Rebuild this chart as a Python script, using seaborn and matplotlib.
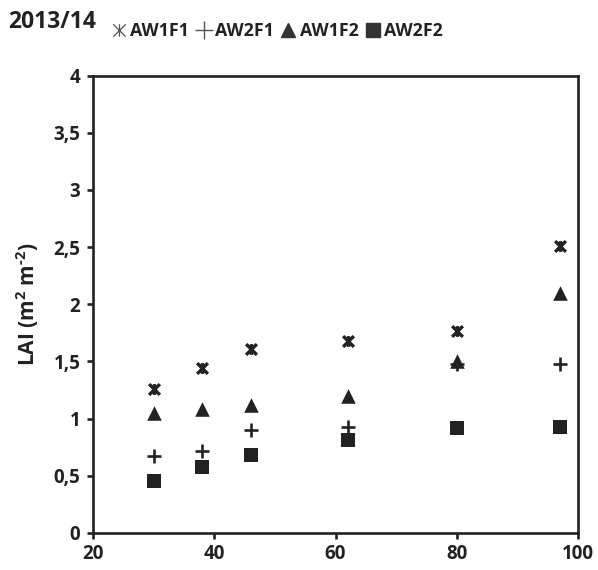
import matplotlib
matplotlib.use("Agg")
import matplotlib.pyplot as plt
from matplotlib.path import Path
from matplotlib.lines import Line2D
import seaborn as sns
import pandas as pd

days = [30, 38, 46, 62, 80, 97]
aw1f1 = [1.26, 1.44, 1.61, 1.68, 1.77, 2.51]
aw2f1 = [0.67, 0.72, 0.90, 0.93, 1.48, 1.48]
aw1f2 = [1.05, 1.08, 1.12, 1.20, 1.50, 2.10]
aw2f2 = [0.455, 0.58, 0.68, 0.81, 0.92, 0.93]
series_names = ["AW1F1", "AW2F1", "AW1F2", "AW2F2"]
x_ticks = [20, 40, 60, 80, 100]
y_ticks = [0, 0.5, 1, 1.5, 2, 2.5, 3, 3.5, 4]
y_tick_labels = ["0", "0,5", "1", "1,5", "2", "2,5", "3", "3,5", "4"]

rows = []
for name, vals in zip(series_names, [aw1f1, aw2f1, aw1f2, aw2f2]):
    for d, v in zip(days, vals):
        rows.append({"x": d, "LAI": v, "series": name})
df = pd.DataFrame(rows)

sns.set_theme(style="white")
plt.rcParams["font.family"] = ["Open Sans", "DejaVu Sans"]
plt.rcParams["mathtext.fontset"] = "custom"
plt.rcParams["mathtext.rm"] = "Open Sans:bold"
plt.rcParams["mathtext.bf"] = "Open Sans:bold"
plt.rcParams["mathtext.it"] = "Open Sans:bold"
ink = "#222222"

# asterisk: X plus a vertical bar
star = Path([(-1, -1), (1, 1), (-1, 1), (1, -1), (0, -1), (0, 1)],
            [Path.MOVETO, Path.LINETO, Path.MOVETO, Path.LINETO, Path.MOVETO, Path.LINETO])

fig = plt.figure(figsize=(5.98, 5.70), dpi=100)
ax = fig.add_axes([93 / 598, 1 - 533 / 570, (578 - 93) / 598, (533 - 75.5) / 570])

markers = {"AW1F1": star, "AW2F1": "+", "AW1F2": "^", "AW2F2": "s"}
sizes = {"AW1F1": 60, "AW2F1": 100, "AW1F2": 110, "AW2F2": 90}
lws = {"AW1F1": 2.4, "AW2F1": 1.9, "AW1F2": 0, "AW2F2": 0}

for name in series_names:
    sub = df[df["series"] == name]
    sns.scatterplot(data=sub, x="x", y="LAI", marker=markers[name], s=sizes[name],
                    color=ink, edgecolor=ink, linewidth=lws[name],
                    legend=False, ax=ax, zorder=3)

ax.set_xlim(20, 100)
ax.set_ylim(0, 4)
ax.set_xticks(x_ticks)
ax.set_xticklabels([str(t) for t in x_ticks])
ax.set_yticks(y_ticks)
ax.set_yticklabels(y_tick_labels)
for sp in ax.spines.values():
    sp.set_color(ink)
    sp.set_linewidth(1.9)
ax.tick_params(axis="both", which="major", direction="out", length=4, width=1.9,
               color=ink, labelsize=13.5, labelcolor=ink)
ax.tick_params(axis="x", bottom=True, pad=4)
ax.tick_params(axis="y", left=True, pad=5)
for lbl in ax.get_xticklabels() + ax.get_yticklabels():
    lbl.set_fontweight("bold")
ax.set_xlabel("")
ax.set_ylabel("LAI (m$^{\\text{2}}$ m$^{\\text{-2}}$)", fontsize=15, fontweight="bold",
              color=ink, labelpad=9)

leg_color = "#333333"
handles = [
    Line2D([], [], linestyle="none", marker=star, markersize=9, markeredgewidth=0.9,
           color="#555555"),
    Line2D([], [], linestyle="none", marker="+", markersize=13, markeredgewidth=1.0,
           color="#555555"),
    Line2D([], [], linestyle="none", marker="^", markersize=10, color=leg_color),
    Line2D([], [], linestyle="none", marker="s", markersize=9.5, color=leg_color),
]
leg = ax.legend(handles, series_names, loc="center left",
                bbox_to_anchor=(110 / 598, 1 - 31 / 570),
                bbox_transform=fig.transFigure, ncol=4, frameon=False,
                handletextpad=0.15, columnspacing=0.3, handlelength=1.0,
                borderpad=0, borderaxespad=0,
                prop={"weight": "bold", "size": 12.8})
for t in leg.get_texts():
    t.set_color(ink)

fig.text(8 / 598, 1 - 22 / 570, "2013/14", fontsize=16.5, fontweight="bold",
         color=ink, va="center", ha="left")

fig.savefig("out.png", dpi=100)
